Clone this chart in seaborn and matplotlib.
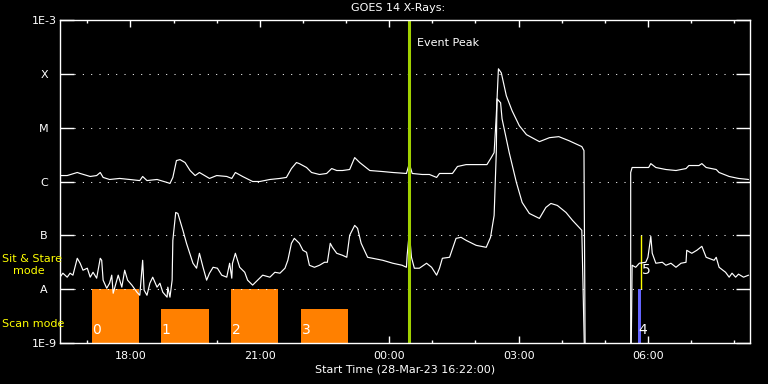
import pandas as pd
import matplotlib
matplotlib.use("Agg")
import matplotlib.pyplot as plt
import matplotlib.dates as mdates
from matplotlib.ticker import NullLocator
import seaborn as sns

start = pd.Timestamp("2023-03-28 16:22:00")

# GOES 14 long channel (1-8 A): minutes after start, flux W/m^2
long_min = [0, 10, 24, 28, 42, 51, 56, 60, 69, 83, 97, 111, 115, 121, 135, 149, 153, 157, 162, 167,
            174, 181, 188, 194, 208, 218, 232, 239, 244, 254, 268, 278, 292, 306, 315, 322, 329, 333, 343, 350,
            361, 371, 378, 385, 393, 403, 410, 417, 431, 449, 463, 482, 486, 490, 504, 514, 524, 528, 546, 553,
            565, 583, 594, 600, 604, 607, 610, 614, 621, 629, 639, 649, 667, 681, 694, 708, 726, 729, 731, 794,
            794, 796, 819, 822, 829, 843, 857, 871, 875, 889, 893, 899, 913, 917, 931, 944, 958]
long_flux = [1.29e-6, 1.29e-6, 1.47e-6, 1.41e-6, 1.24e-6, 1.29e-6, 1.47e-6, 1.19e-6, 1.09e-6, 1.14e-6,
             1.09e-6, 1.04e-6, 1.24e-6, 1.04e-6, 1.09e-6, 0.96e-6, 0.92e-6, 1.19e-6, 2.45e-6, 2.55e-6,
             2.25e-6, 1.60e-6, 1.29e-6, 1.47e-6, 1.14e-6, 1.29e-6, 1.24e-6, 1.14e-6, 1.47e-6, 1.24e-6,
             1.0e-6, 1.0e-6, 1.09e-6, 1.14e-6, 1.19e-6, 1.74e-6, 2.25e-6, 2.15e-6, 1.82e-6, 1.47e-6,
             1.35e-6, 1.41e-6, 1.74e-6, 1.60e-6, 1.60e-6, 1.67e-6, 2.78e-6, 2.25e-6, 1.60e-6, 1.53e-6,
             1.47e-6, 1.41e-6, 2.15e-6, 1.41e-6, 1.35e-6, 1.35e-6, 1.19e-6, 1.41e-6, 1.41e-6, 1.90e-6,
             2.06e-6, 2.06e-6, 2.06e-6, 2.78e-6, 3.44e-6, 1.67e-5, 1.24e-4, 1.04e-4, 3.91e-5, 2.06e-5,
             1.09e-5, 7.42e-6, 5.50e-6, 6.52e-6, 6.81e-6, 5.74e-6, 4.45e-6, 3.75e-6, 1e-10, 1e-10,
             1.47e-6, 1.82e-6, 1.82e-6, 2.15e-6, 1.82e-6, 1.67e-6, 1.60e-6, 1.74e-6, 1.98e-6, 1.98e-6,
             2.15e-6, 1.82e-6, 1.67e-6, 1.47e-6, 1.24e-6, 1.14e-6, 1.09e-6]

# short channel (0.5-4 A)
short_min = [0, 4, 10, 14, 18, 24, 28, 32, 38, 42, 46, 51, 56, 58, 60, 65, 69, 72, 74, 79,
             81, 86, 90, 94, 100, 107, 111, 115, 117, 121, 125, 129, 135, 139, 143, 149, 150, 153, 156, 157,
             161, 164, 171, 176, 185, 190, 194, 199, 204, 208, 213, 219, 225, 232, 236, 239, 240, 244, 250, 257,
             261, 268, 275, 282, 292, 299, 306, 313, 317, 322, 326, 333, 338, 343, 347, 354, 361, 368, 372, 376,
             379, 385, 393, 399, 403, 410, 414, 419, 428, 435, 449, 463, 476, 482, 483, 486, 489, 493, 500, 510,
             517, 524, 528, 532, 542, 551, 558, 565, 579, 593, 599, 601, 604, 607, 608, 613, 615, 625, 635, 643,
             653, 667, 676, 683, 692, 704, 713, 722, 726, 731, 794, 796, 801, 806, 815, 818, 822, 824, 829, 838,
             843, 850, 857, 864, 871, 872, 879, 886, 893, 899, 910, 913, 917, 926, 931, 935, 940, 944, 951, 958]
short_flux = [1.67e-8, 1.98e-8, 1.67e-8, 1.98e-8, 1.82e-8, 3.75e-8, 3.03e-8, 2.25e-8, 2.45e-8, 1.67e-8,
              2.06e-8, 1.60e-8, 3.75e-8, 3.44e-8, 1.47e-8, 1.04e-8, 1.29e-8, 1.82e-8, 0.84e-8, 1.47e-8,
              1.82e-8, 1.09e-8, 2.25e-8, 1.47e-8, 1.19e-8, 0.88e-8, 0.77e-8, 3.44e-8, 0.96e-8, 0.77e-8,
              1.29e-8, 1.67e-8, 1.09e-8, 1.29e-8, 0.88e-8, 0.71e-8, 1.09e-8, 0.71e-8, 1.47e-8, 8.07e-8,
              2.66e-7, 2.55e-7, 1.24e-7, 7.11e-8, 3.03e-8, 2.45e-8, 4.64e-8, 2.55e-8, 1.47e-8, 1.98e-8,
              2.55e-8, 2.45e-8, 1.82e-8, 1.67e-8, 3.03e-8, 1.60e-8, 3.03e-8, 4.64e-8, 2.55e-8, 2.06e-8,
              1.47e-8, 1.19e-8, 1.47e-8, 1.82e-8, 1.67e-8, 2.06e-8, 1.98e-8, 2.45e-8, 3.44e-8, 7.11e-8,
              8.79e-8, 7.11e-8, 5.27e-8, 4.84e-8, 2.78e-8, 2.55e-8, 2.78e-8, 3.16e-8, 3.16e-8, 7.11e-8,
              5.99e-8, 4.64e-8, 4.26e-8, 3.91e-8, 1.0e-7, 1.53e-7, 1.35e-7, 7.11e-8, 3.91e-8, 3.75e-8,
              3.44e-8, 3.03e-8, 2.78e-8, 2.55e-8, 4.26e-8, 1.14e-7, 3.91e-8, 2.45e-8, 2.45e-8, 3.03e-8,
              2.55e-8, 1.82e-8, 2.45e-8, 3.75e-8, 3.91e-8, 8.79e-8, 9.18e-8, 8.07e-8, 6.52e-8, 5.99e-8,
              9.18e-8, 1.35e-7, 2.34e-7, 3.44e-6, 3.44e-5, 2.90e-5, 1.47e-5, 3.44e-6, 9.58e-7, 4.08e-7,
              2.55e-7, 2.06e-7, 3.30e-7, 3.91e-7, 3.59e-7, 2.66e-7, 1.90e-7, 1.41e-7, 1.24e-7, 1e-10,
              1e-10, 2.78e-8, 2.55e-8, 3.03e-8, 3.16e-8, 3.91e-8, 9.58e-8, 4.64e-8, 3.03e-8, 3.16e-8,
              2.78e-8, 3.03e-8, 2.55e-8, 3.03e-8, 3.16e-8, 5.27e-8, 4.64e-8, 5.27e-8, 6.25e-8, 3.91e-8,
              3.44e-8, 3.91e-8, 2.55e-8, 2.06e-8, 1.67e-8, 1.98e-8, 1.67e-8, 1.90e-8, 1.67e-8, 1.82e-8]

# raster windows (minutes after start)
scan_start = [44, 140, 238, 335]
scan_end = [110, 207, 303, 400]
scan_top = [1e-8, 4.3e-9, 1e-8, 4.3e-9]
scan_labels = ["0", "1", "2", "3"]
stare_start, stare_end, stare_top = 804, 808, 1e-8   # obs 4
sit_min, sit_low, sit_high = 808, 1e-8, 1e-7           # obs 5
peak_min = 485

levels = [1e-9, 1e-8, 1e-7, 1e-6, 1e-5, 1e-4, 1e-3]
level_labels = ["1E-9", "A", "B", "C", "M", "X", "1E-3"]


def to_time(m):
    return start + pd.to_timedelta(m, unit="m")


df = pd.concat([
    pd.DataFrame({"time": to_time(long_min), "flux": long_flux, "ch": "long"}),
    pd.DataFrame({"time": to_time(short_min), "flux": short_flux, "ch": "short"}),
])

sns.set_theme(style="ticks", rc={
    "figure.facecolor": "black", "axes.facecolor": "black",
    "axes.edgecolor": "white", "axes.labelcolor": "white",
    "xtick.color": "white", "ytick.color": "white", "text.color": "white",
    "axes.linewidth": 1.0,
})
plt.rcParams["font.family"] = ["DejaVu Sans"]

fig = plt.figure(figsize=(7.68, 3.84), dpi=100)
ax = fig.add_axes([60 / 768, 41 / 384, 690 / 768, 323 / 384])

# observation bars first, curves over them
for s, e, top, lab in zip(scan_start, scan_end, scan_top, scan_labels):
    x0 = mdates.date2num(to_time(s))
    ax.bar(x0, top - 1e-9, width=(e - s) / 1440, bottom=1e-9, align="edge",
           color="#ff8000", linewidth=0)
    ax.text(x0 + 1 / 1440, 1.29e-9, lab, color="white", fontsize=10, ha="left", va="bottom")

x4 = mdates.date2num(to_time(stare_start))
ax.bar(x4, stare_top - 1e-9, width=(stare_end - stare_start) / 1440, bottom=1e-9,
       align="edge", color="#6464ff", linewidth=0)
ax.text(x4, 1.29e-9, "4", color="white", fontsize=10, ha="left", va="bottom")
ax.vlines(to_time(sit_min), sit_low, sit_high, color="#ffff00", lw=1)
ax.text(mdates.date2num(to_time(sit_min)) + 1 / 1440, 1.67e-8, "5", color="white",
        fontsize=10, ha="left", va="bottom")

for lvl in levels[1:-1]:
    ax.axhline(lvl, xmin=14 / 690, xmax=1 - 14 / 690, color="white", lw=0.75, ls=(0, (1, 7)))

sns.lineplot(data=df, x="time", y="flux", hue="ch", palette=["white", "white"],
             units="ch", estimator=None, sort=False, lw=0.85, legend=False, ax=ax)

ax.axvline(to_time(peak_min), color="#a0d000", lw=2.2)
ax.text(to_time(peak_min + 12), 3.75e-4, "Event Peak", color="white", fontsize=8,
        ha="left", va="center")

ax.set_yscale("log")
ax.set_ylim(1e-9, 1e-3)
ax.set_xlim(start, start + pd.Timedelta(hours=16))
ax.set_yticks(levels, level_labels)
ax.yaxis.set_minor_locator(NullLocator())
plt.setp(ax.get_yticklabels(), ha="center")
ax.tick_params(axis="y", which="major", direction="in", length=10, width=1,
               left=True, right=True, pad=11.5, labelsize=8)

ax.xaxis.set_major_locator(mdates.HourLocator(byhour=range(0, 24, 3)))
ax.xaxis.set_minor_locator(mdates.HourLocator())
ax.xaxis.set_major_formatter(mdates.DateFormatter("%H:%M"))
ax.tick_params(axis="x", which="major", direction="in", length=5, width=1,
               top=True, bottom=True, pad=6, labelsize=8)
ax.tick_params(axis="x", which="minor", direction="in", length=2.5, width=1,
               top=True, bottom=True)
for sp in ax.spines.values():
    sp.set_visible(True)
    sp.set_color("white")

ax.set_ylabel("")
ax.set_xlabel("Start Time (28-Mar-23 16:22:00)", fontsize=8, labelpad=2.5)

fig.text(398 / 768, 1 - 8 / 384, "GOES 14 X-Rays:", ha="center", va="center", fontsize=8)
fig.text(2 / 768, 1 - 259 / 384, "Sit & Stare", color="#ffff00", fontsize=8, ha="left", va="center")
fig.text(13 / 768, 1 - 271 / 384, "mode", color="#ffff00", fontsize=8, ha="left", va="center")
fig.text(2 / 768, 1 - 324 / 384, "Scan mode", color="#ffff00", fontsize=8, ha="left", va="center")

fig.savefig("out.png", dpi=100, facecolor="black")
